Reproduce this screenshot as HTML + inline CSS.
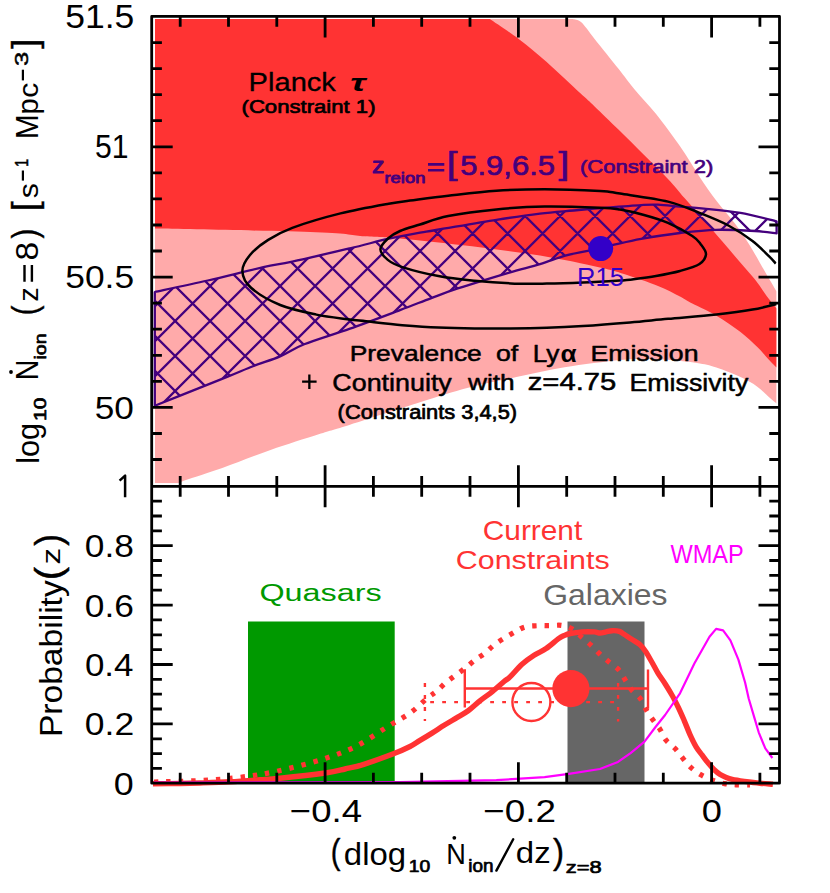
<!DOCTYPE html>
<html><head><meta charset="utf-8"><title>Reionization constraints</title>
<style>
html,body{margin:0;padding:0;background:#fff;}
body{width:830px;height:893px;overflow:hidden;font-family:"Liberation Sans",sans-serif;font-size:0;line-height:0;}
svg{display:block;position:absolute;left:0;top:0;}
svg text{font-family:"Liberation Sans",sans-serif;}
</style></head>
<body>
<svg width="830" height="893" viewBox="0 0 830 893">
<rect width="830" height="893" fill="#fff"/>
<clipPath id="ct"><rect x="154.9" y="19.0" width="621.7" height="464.3"/></clipPath>
<path d="M154.9,19.0L572.9,19.0C574.3,19.6 577.7,19.0 581.3,22.3C584.9,25.6 588.4,31.1 594.6,38.9C600.8,46.7 612.1,60.6 618.7,69.0C625.3,77.4 628.2,81.7 634.4,89.2C640.6,96.7 648.5,104.5 656.1,114.1C663.7,123.7 673.0,136.2 680.2,146.6C687.4,157.0 693.5,167.7 699.5,176.7C705.5,185.7 710.4,192.8 716.4,200.8C722.4,208.8 730.1,217.0 735.7,224.5C741.3,232.0 745.2,238.1 750.0,245.8C754.8,253.6 760.2,263.4 764.6,271.0C769.0,278.6 774.6,288.2 776.6,291.6L776.6,403.6C775.4,402.6 772.6,400.4 769.4,397.6C766.2,394.8 762.1,390.1 757.3,386.7C752.5,383.3 747.3,380.3 740.5,377.1C733.7,373.9 723.6,369.9 716.4,367.5C709.1,365.1 705.0,364.3 697.0,363.0C689.0,361.7 677.0,360.4 668.2,359.7C659.4,359.0 652.1,358.9 644.1,359.0C636.1,359.1 633.2,358.7 620.0,360.1C606.8,361.5 581.9,364.5 564.6,367.3C547.3,370.1 532.5,373.6 516.4,377.0C500.3,380.4 484.3,383.6 468.2,387.8C452.1,392.0 439.7,396.2 420.0,402.3C400.3,408.4 366.9,419.4 350.0,424.7C333.1,430.0 331.9,430.1 318.7,434.3C305.4,438.5 286.6,444.4 270.5,450.0C254.4,455.6 236.4,463.0 222.3,468.0C208.2,473.0 193.2,477.4 186.0,480.0C178.8,482.6 180.2,482.8 179.0,483.3L154.9,483.3Z" fill="#ffaaaa" clip-path="url(#ct)"/>
<path d="M154.9,19.0L489.8,19.0C494.6,22.3 509.3,31.8 518.7,38.9C528.1,46.0 536.2,52.8 546.4,61.8C556.6,70.8 572.1,85.7 580.1,93.1C588.1,100.5 588.2,100.3 594.6,106.4C601.0,112.5 610.5,121.7 618.7,129.8C627.0,137.9 635.9,146.8 644.1,155.0C652.4,163.2 661.5,172.0 668.2,179.2C674.9,186.4 678.7,191.4 684.5,198.0C690.3,204.6 696.7,211.7 703.0,219.0C709.3,226.3 716.1,234.3 722.4,241.6C728.6,248.9 735.1,256.4 740.5,262.7C745.9,269.0 750.6,273.9 755.0,279.5C759.4,285.1 763.4,291.6 767.0,296.4C770.6,301.2 775.0,306.4 776.6,308.4L776.6,367.5C775.4,366.3 772.6,363.6 769.4,360.2C766.2,356.8 762.1,351.7 757.3,347.0C752.5,342.3 747.3,337.2 740.5,332.0C733.7,326.8 724.4,320.4 716.4,315.7C708.4,311.0 698.4,306.8 692.3,303.6C686.2,300.4 685.7,299.4 680.0,296.5C674.3,293.6 667.3,289.8 658.0,286.0C648.7,282.2 633.7,277.1 624.0,274.0C614.3,270.9 614.0,270.6 600.0,267.5C586.0,264.4 561.3,259.1 540.0,255.6C518.7,252.1 495.3,249.2 472.0,246.3C448.7,243.5 417.8,240.2 400.0,238.5C382.2,236.8 379.0,237.4 365.0,236.3C351.0,235.2 351.0,233.5 316.0,232.2C281.0,230.9 181.7,229.2 154.8,228.6Z" fill="#ff3333" clip-path="url(#ct)"/>
<clipPath id="cb"><path d="M154.8,292.0C163.6,290.1 189.7,284.6 207.8,280.5C225.9,276.4 249.2,270.3 263.3,267.2C277.4,264.1 277.9,264.8 292.3,261.6C306.8,258.5 333.9,252.1 350.0,248.3C366.1,244.5 377.0,241.3 388.7,238.7C400.4,236.1 412.1,234.0 420.0,232.6C427.9,231.2 423.4,232.1 436.1,230.0C448.8,227.9 479.1,222.5 496.4,219.8C513.7,217.1 527.1,215.2 540.0,213.6C552.9,212.0 562.5,211.5 573.7,210.5C585.0,209.5 596.2,208.5 607.5,207.6C618.8,206.7 632.8,205.6 641.2,205.1C649.6,204.6 651.5,204.4 658.0,204.7C664.5,205.0 672.3,206.0 680.0,206.7C687.7,207.3 693.9,207.6 704.0,208.6C714.1,209.6 728.4,210.8 740.5,212.9C752.6,215.0 770.6,219.9 776.6,221.3L776.6,233.4C773.0,233.0 765.0,231.6 755.0,231.0C745.0,230.4 728.9,229.5 716.4,229.8C703.9,230.1 692.5,231.5 680.0,233.0C667.5,234.5 652.2,236.9 641.2,238.8C630.2,240.8 622.9,242.7 614.2,244.7C605.5,246.7 597.0,248.8 588.9,250.6C580.8,252.4 573.4,253.3 565.3,255.6C557.1,257.9 549.5,261.2 540.0,264.1C530.5,267.0 522.1,268.8 508.4,272.8C494.7,276.9 470.6,284.2 457.8,288.4C445.0,292.6 440.9,294.5 431.3,298.1C421.7,301.7 413.6,305.0 400.0,310.1C386.4,315.2 366.0,323.0 350.0,328.7C334.0,334.4 315.8,339.7 304.2,344.3C292.6,348.9 288.5,352.8 280.1,356.4C271.7,360.0 262.4,362.6 253.6,366.0C244.8,369.4 239.5,371.9 227.1,376.9C214.7,381.9 190.9,391.3 178.9,396.1C166.9,400.9 158.8,404.2 154.8,405.8Z"/></clipPath>
<path d="M6.1,420.0L236.1,190.0M41.1,420.0L271.1,190.0M76.1,420.0L306.1,190.0M111.1,420.0L341.1,190.0M146.1,420.0L376.1,190.0M181.1,420.0L411.1,190.0M216.1,420.0L446.1,190.0M251.1,420.0L481.1,190.0M286.1,420.0L516.1,190.0M321.1,420.0L551.1,190.0M356.1,420.0L586.1,190.0M391.1,420.0L621.1,190.0M426.1,420.0L656.1,190.0M461.1,420.0L691.1,190.0M496.1,420.0L726.1,190.0M531.1,420.0L761.1,190.0M566.1,420.0L796.1,190.0M601.1,420.0L831.1,190.0M636.1,420.0L866.1,190.0M671.1,420.0L901.1,190.0M-25.9,190.0L204.1,420.0M9.1,190.0L239.1,420.0M44.1,190.0L274.1,420.0M79.1,190.0L309.1,420.0M114.1,190.0L344.1,420.0M149.1,190.0L379.1,420.0M184.1,190.0L414.1,420.0M219.1,190.0L449.1,420.0M254.1,190.0L484.1,420.0M289.1,190.0L519.1,420.0M324.1,190.0L554.1,420.0M359.1,190.0L589.1,420.0M394.1,190.0L624.1,420.0M429.1,190.0L659.1,420.0M464.1,190.0L694.1,420.0M499.1,190.0L729.1,420.0M534.1,190.0L764.1,420.0M569.1,190.0L799.1,420.0M604.1,190.0L834.1,420.0M639.1,190.0L869.1,420.0M674.1,190.0L904.1,420.0M709.1,190.0L939.1,420.0M744.1,190.0L974.1,420.0M779.1,190.0L1009.1,420.0" stroke="#44007d" stroke-width="2.3" fill="none" clip-path="url(#cb)"/>
<path d="M154.8,292.0C163.6,290.1 189.7,284.6 207.8,280.5C225.9,276.4 249.2,270.3 263.3,267.2C277.4,264.1 277.9,264.8 292.3,261.6C306.8,258.5 333.9,252.1 350.0,248.3C366.1,244.5 377.0,241.3 388.7,238.7C400.4,236.1 412.1,234.0 420.0,232.6C427.9,231.2 423.4,232.1 436.1,230.0C448.8,227.9 479.1,222.5 496.4,219.8C513.7,217.1 527.1,215.2 540.0,213.6C552.9,212.0 562.5,211.5 573.7,210.5C585.0,209.5 596.2,208.5 607.5,207.6C618.8,206.7 632.8,205.6 641.2,205.1C649.6,204.6 651.5,204.4 658.0,204.7C664.5,205.0 672.3,206.0 680.0,206.7C687.7,207.3 693.9,207.6 704.0,208.6C714.1,209.6 728.4,210.8 740.5,212.9C752.6,215.0 770.6,219.9 776.6,221.3L776.6,233.4C773.0,233.0 765.0,231.6 755.0,231.0C745.0,230.4 728.9,229.5 716.4,229.8C703.9,230.1 692.5,231.5 680.0,233.0C667.5,234.5 652.2,236.9 641.2,238.8C630.2,240.8 622.9,242.7 614.2,244.7C605.5,246.7 597.0,248.8 588.9,250.6C580.8,252.4 573.4,253.3 565.3,255.6C557.1,257.9 549.5,261.2 540.0,264.1C530.5,267.0 522.1,268.8 508.4,272.8C494.7,276.9 470.6,284.2 457.8,288.4C445.0,292.6 440.9,294.5 431.3,298.1C421.7,301.7 413.6,305.0 400.0,310.1C386.4,315.2 366.0,323.0 350.0,328.7C334.0,334.4 315.8,339.7 304.2,344.3C292.6,348.9 288.5,352.8 280.1,356.4C271.7,360.0 262.4,362.6 253.6,366.0C244.8,369.4 239.5,371.9 227.1,376.9C214.7,381.9 190.9,391.3 178.9,396.1C166.9,400.9 158.8,404.2 154.8,405.8Z" stroke="#44007d" stroke-width="2.3" fill="none" stroke-linejoin="round"/>
<path d="M775.8,263.5C774.7,262.4 773.3,260.4 769.4,256.6C765.5,252.9 759.3,246.2 752.5,241.0C745.7,235.8 737.2,230.2 728.4,225.5C719.6,220.8 709.6,216.9 699.5,212.9C689.4,208.9 681.2,204.8 668.0,201.6C654.8,198.4 631.3,195.4 620.0,193.6C608.7,191.8 612.6,191.7 600.0,191.0C587.4,190.3 561.9,189.2 544.6,189.2C527.3,189.2 512.5,189.7 496.4,190.8C480.3,191.9 462.6,194.1 448.2,195.7C433.8,197.3 419.9,199.3 410.0,200.6C400.1,201.9 400.3,201.6 388.7,203.7C377.1,205.8 356.6,209.4 340.5,213.4C324.4,217.4 304.4,223.4 292.3,227.8C280.2,232.2 275.2,235.4 268.2,239.9C261.1,244.4 254.3,249.8 250.0,255.0C245.7,260.2 242.2,265.7 242.4,271.2C242.6,276.7 245.0,282.4 251.3,288.0C257.6,293.6 269.4,300.6 280.2,305.0C291.0,309.4 305.1,312.2 316.4,314.6C327.6,317.0 339.4,318.1 347.7,319.2C356.0,320.3 357.0,320.3 366.1,321.3C375.2,322.3 390.2,324.1 402.3,325.2C414.4,326.2 426.3,327.1 438.4,327.6C450.4,328.2 462.6,328.4 474.6,328.5C486.7,328.6 498.7,328.6 510.7,328.5C522.7,328.4 534.8,328.2 546.8,327.8C558.8,327.4 569.1,326.9 583.0,326.0C596.9,325.1 615.8,323.6 630.0,322.4C644.2,321.2 653.8,320.1 668.2,318.8C682.6,317.5 702.4,316.0 716.4,314.5C730.4,313.0 742.5,311.4 752.5,309.6C762.5,307.9 772.6,304.9 776.6,304.0" stroke="#000" stroke-width="2.5" fill="none" clip-path="url(#ct)"/>
<path d="M706.0,254.2C706.2,250.9 702.8,247.0 700.5,244.0C698.2,241.0 697.7,239.5 692.3,236.0C686.9,232.5 676.0,226.4 668.0,222.9C660.0,219.4 652.0,217.2 644.0,215.0C636.0,212.8 627.3,210.8 620.0,209.6C612.7,208.4 612.6,208.2 600.0,207.7C587.4,207.2 561.9,206.2 544.6,206.5C527.3,206.8 512.5,207.8 496.4,209.4C480.3,211.0 460.9,213.6 448.2,216.1C435.5,218.6 428.0,222.0 420.0,224.5C412.0,227.0 405.3,228.7 400.0,231.0C394.7,233.3 391.3,235.4 388.0,238.5C384.7,241.6 380.4,245.7 380.4,249.3C380.4,252.9 384.1,256.9 387.8,259.9C391.5,262.9 393.9,264.4 402.3,267.1C410.7,269.8 426.3,273.8 438.4,276.1C450.4,278.4 462.6,279.6 474.6,280.8C486.7,282.0 498.7,282.9 510.7,283.4C522.7,283.9 534.8,283.7 546.8,283.6C558.8,283.5 570.8,283.1 583.0,282.6C595.2,282.1 611.8,281.1 620.0,280.6C628.2,280.1 626.0,280.3 632.0,279.5C638.0,278.7 648.0,277.4 656.0,276.0C664.0,274.6 672.8,273.0 680.0,271.0C687.2,269.0 695.2,266.8 699.5,264.0C703.8,261.2 705.8,257.5 706.0,254.2Z" stroke="#000" stroke-width="2.5" fill="none"/>
<circle cx="600.7" cy="248.6" r="12.5" fill="#3300c8"/>
<rect x="248" y="621.5" width="146.7" height="161.7" fill="#009900"/>
<rect x="567.5" y="621.5" width="77" height="161.7" fill="#666666"/>
<path d="M154.0,782.0C161.7,781.8 186.1,781.3 200.0,780.6C213.9,779.9 225.0,779.1 237.7,777.6C250.4,776.1 262.1,774.5 276.3,771.4C290.5,768.3 309.4,763.4 322.7,759.2C336.0,755.0 345.4,751.7 356.1,746.3C366.8,740.9 378.0,732.6 387.0,727.0C396.0,721.4 403.5,717.7 410.2,712.9C416.9,708.1 422.8,701.9 427.2,698.2C431.6,694.6 433.8,693.6 436.9,691.0C440.0,688.4 442.8,685.1 445.9,682.5C449.0,679.9 452.3,677.7 455.5,675.3C458.7,672.9 462.0,670.6 465.2,668.1C468.4,665.6 471.5,662.7 474.8,660.2C478.1,657.7 481.5,655.8 485.1,653.0C488.7,650.2 491.5,646.7 496.4,643.2C501.2,639.8 509.4,635.0 514.2,632.3C519.0,629.6 521.3,628.0 525.1,626.9C528.9,625.8 533.1,625.9 537.1,625.7C541.1,625.5 545.1,625.8 549.2,625.7C553.3,625.7 557.9,624.8 561.8,625.4C565.7,626.0 569.3,627.2 572.7,629.3C576.1,631.3 579.2,635.0 582.3,637.7C585.4,640.4 588.4,642.8 591.3,645.5C594.2,648.2 596.8,651.2 599.8,654.0C602.8,656.8 605.9,659.4 609.0,662.0C612.1,664.6 616.0,666.8 618.7,669.8C621.4,672.8 623.1,676.7 625.3,680.1C627.5,683.5 629.4,687.2 631.9,690.3C634.4,693.4 638.0,695.4 640.4,698.7C642.8,702.0 644.3,706.7 646.4,710.2C648.5,713.8 650.7,716.8 653.0,720.0C655.3,723.2 657.8,725.9 660.0,729.3C662.2,732.7 663.5,737.0 666.0,740.2C668.5,743.4 672.3,745.6 675.1,748.6C677.9,751.6 680.3,755.2 682.9,758.3C685.5,761.4 687.8,764.6 690.7,767.3C693.6,770.0 696.9,772.4 700.4,774.5C703.9,776.6 707.8,778.4 711.8,779.9C715.8,781.4 720.5,782.8 724.5,783.6C728.5,784.4 731.6,784.6 735.9,784.8C740.1,785.0 747.6,785.0 750.0,785.0" stroke="#ff3333" stroke-width="5.2" stroke-dasharray="4.4 8" fill="none"/>
<path d="M153.0,783.8C157.5,783.8 172.2,783.6 180.0,783.5C187.8,783.4 191.7,783.3 200.0,783.0C208.3,782.7 220.0,782.3 230.0,781.8C240.0,781.3 251.7,780.4 260.0,779.8C268.3,779.2 269.1,779.3 280.0,778.2C290.9,777.1 314.4,774.5 325.2,773.0C336.0,771.5 338.6,770.5 345.0,769.0C351.4,767.5 355.5,766.9 363.8,764.3C372.1,761.7 387.0,756.3 394.7,753.3C402.4,750.3 405.8,748.6 410.0,746.5C414.2,744.4 416.3,742.6 420.0,740.4C423.7,738.2 428.0,735.6 432.0,733.1C436.0,730.6 440.1,727.8 444.1,725.3C448.1,722.8 452.1,720.5 456.1,718.1C460.1,715.7 464.2,713.7 468.2,710.8C472.2,707.9 476.2,703.8 480.2,700.6C484.2,697.4 488.3,694.8 492.3,691.6C496.3,688.4 501.4,683.8 504.3,681.3C507.2,678.8 507.1,679.8 510.0,676.9C513.0,674.0 518.0,667.8 522.0,664.2C526.0,660.6 530.1,657.8 534.1,655.2C538.1,652.6 542.1,651.3 546.1,648.6C550.1,645.9 555.2,641.1 558.2,638.9C561.2,636.7 562.2,636.4 564.2,635.5C566.2,634.6 567.2,634.1 570.2,633.5C573.2,632.9 578.3,632.2 582.3,631.9C586.3,631.6 591.3,631.7 594.3,631.9C597.2,632.1 598.0,633.0 600.0,633.0C602.0,633.0 604.0,632.3 606.0,631.9C608.0,631.5 609.8,630.8 612.0,630.7C614.2,630.6 617.3,630.7 619.3,631.3C621.3,631.9 622.1,633.0 624.1,634.3C626.1,635.6 628.7,637.4 631.3,639.1C633.9,640.8 637.4,642.4 639.8,644.5C642.2,646.6 643.8,648.8 645.8,651.7C647.8,654.6 649.8,658.5 651.8,662.0C653.8,665.5 655.6,669.2 657.8,672.8C660.0,676.4 662.7,679.9 665.1,683.7C667.5,687.5 670.0,691.6 672.2,695.5C674.4,699.4 676.1,702.9 678.1,707.0C680.1,711.1 682.1,715.7 684.1,720.3C686.1,724.9 688.1,730.4 690.1,734.8C692.1,739.2 694.1,743.4 696.1,746.8C698.1,750.2 700.2,752.5 702.2,755.2C704.2,757.9 706.2,760.7 708.2,763.1C710.2,765.5 712.2,767.8 714.2,769.7C716.2,771.6 718.2,773.2 720.2,774.5C722.2,775.8 724.3,776.7 726.3,777.5C728.3,778.3 729.3,778.7 732.3,779.3C735.3,779.9 739.7,780.6 744.3,781.3C748.9,781.9 755.2,782.7 760.0,783.2C764.8,783.7 770.8,784.1 772.9,784.3" stroke="#ff3333" stroke-width="5.4" fill="none" stroke-linejoin="round"/>
<path d="M154.0,782.6L400.0,782.0L448.0,781.2L496.4,780.2L544.6,777.1L568.7,773.8L600.0,769.0L618.0,761.9L630.6,753.1L644.5,741.7L655.9,726.5L665.1,715.0L680.0,693.3L694.5,663.2L709.5,636.7L716.1,628.9L723.1,630.4L730.4,640.3L738.4,659.6L745.1,682.5L748.7,698.5L754.2,717.1L758.7,732.3L765.3,748.4L772.4,758.0" stroke="#ff00ff" stroke-width="2.2" fill="none" stroke-linejoin="round"/>
<g stroke="#ff3333" stroke-width="2.4" fill="none">
<path d="M464.8,688.5H648M464.8,669.3V707.4M648,669.6V708.8"/>
<path d="M425,702.1H618" stroke-dasharray="3.8 8.2" stroke-dashoffset="-5.2"/>
<path d="M424.9,683.1V721M618.1,683V721.4" stroke-dasharray="3.8 8.2"/>
<circle cx="531.4" cy="702" r="19"/>
</g>
<circle cx="570.9" cy="688.6" r="18.6" fill="#ff3333"/>
<path d="M151.7,16.4H779.5V783.2H151.7ZM151.7,486.3H779.5M180.2,16.4v10.4M180.2,475.9v20.8M180.2,783.2v-10.4M228.5,16.4v10.4M228.5,475.9v20.8M228.5,783.2v-10.4M276.8,16.4v10.4M276.8,475.9v20.8M276.8,783.2v-10.4M325.1,16.4v21.0M325.1,465.3v42.0M325.1,783.2v-21.0M373.4,16.4v10.4M373.4,475.9v20.8M373.4,783.2v-10.4M421.7,16.4v10.4M421.7,475.9v20.8M421.7,783.2v-10.4M470.0,16.4v10.4M470.0,475.9v20.8M470.0,783.2v-10.4M518.4,16.4v21.0M518.4,465.3v42.0M518.4,783.2v-21.0M566.7,16.4v10.4M566.7,475.9v20.8M566.7,783.2v-10.4M615.0,16.4v10.4M615.0,475.9v20.8M615.0,783.2v-10.4M663.3,16.4v10.4M663.3,475.9v20.8M663.3,783.2v-10.4M711.6,16.4v21.0M711.6,465.3v42.0M711.6,783.2v-21.0M759.9,16.4v10.4M759.9,475.9v20.8M759.9,783.2v-10.4M151.7,459.5h10.2M779.5,459.5h-10.2M151.7,433.5h10.2M779.5,433.5h-10.2M151.7,407.4h21.0M779.5,407.4h-21.0M151.7,381.3h10.2M779.5,381.3h-10.2M151.7,355.3h10.2M779.5,355.3h-10.2M151.7,329.2h10.2M779.5,329.2h-10.2M151.7,303.2h10.2M779.5,303.2h-10.2M151.7,277.1h21.0M779.5,277.1h-21.0M151.7,251.0h10.2M779.5,251.0h-10.2M151.7,225.0h10.2M779.5,225.0h-10.2M151.7,198.9h10.2M779.5,198.9h-10.2M151.7,172.9h10.2M779.5,172.9h-10.2M151.7,146.8h21.0M779.5,146.8h-21.0M151.7,120.7h10.2M779.5,120.7h-10.2M151.7,94.7h10.2M779.5,94.7h-10.2M151.7,68.6h10.2M779.5,68.6h-10.2M151.7,42.6h10.2M779.5,42.6h-10.2M151.7,768.4h10.2M779.5,768.4h-10.2M151.7,753.6h10.2M779.5,753.6h-10.2M151.7,738.8h10.2M779.5,738.8h-10.2M151.7,723.9h21.0M779.5,723.9h-21.0M151.7,709.0h10.2M779.5,709.0h-10.2M151.7,694.2h10.2M779.5,694.2h-10.2M151.7,679.3h10.2M779.5,679.3h-10.2M151.7,664.5h21.0M779.5,664.5h-21.0M151.7,649.6h10.2M779.5,649.6h-10.2M151.7,634.8h10.2M779.5,634.8h-10.2M151.7,619.9h10.2M779.5,619.9h-10.2M151.7,605.1h21.0M779.5,605.1h-21.0M151.7,590.2h10.2M779.5,590.2h-10.2M151.7,575.4h10.2M779.5,575.4h-10.2M151.7,560.5h10.2M779.5,560.5h-10.2M151.7,545.7h21.0M779.5,545.7h-21.0M151.7,530.8h10.2M779.5,530.8h-10.2M151.7,516.0h10.2M779.5,516.0h-10.2M151.7,501.1h10.2M779.5,501.1h-10.2" stroke="#000" stroke-width="2.8" fill="none" stroke-linejoin="round"/>
<text x="65.18" y="28.02" font-size="32.71" textLength="69.09" lengthAdjust="spacingAndGlyphs">51.5</text>
<text x="95.09" y="158.12" font-size="32.71" textLength="33.53" lengthAdjust="spacingAndGlyphs">51</text>
<text x="65.29" y="288.43" font-size="32.25" textLength="68.77" lengthAdjust="spacingAndGlyphs">50.5</text>
<text x="94.79" y="418.83" font-size="32.25" textLength="39.12" lengthAdjust="spacingAndGlyphs">50</text>
<path d="M119.6,480.6L125.1,475.6V497.3" stroke="#000" stroke-width="2.5" fill="none" stroke-linejoin="round"/>
<text x="84.89" y="557.03" font-size="32.25" textLength="49.11" lengthAdjust="spacingAndGlyphs">0.8</text>
<text x="84.89" y="616.53" font-size="32.25" textLength="49.11" lengthAdjust="spacingAndGlyphs">0.6</text>
<text x="84.90" y="675.93" font-size="32.25" textLength="48.55" lengthAdjust="spacingAndGlyphs">0.4</text>
<text x="84.88" y="735.33" font-size="32.25" textLength="49.30" lengthAdjust="spacingAndGlyphs">0.2</text>
<text x="113.77" y="794.83" font-size="32.25" textLength="19.93" lengthAdjust="spacingAndGlyphs">0</text>
<text x="289.87" y="822.48" font-size="32.11" textLength="72.09" lengthAdjust="spacingAndGlyphs">−0.4</text>
<text x="483.16" y="822.48" font-size="32.11" textLength="72.75" lengthAdjust="spacingAndGlyphs">−0.2</text>
<text x="701.75" y="822.48" font-size="32.11" textLength="20.16" lengthAdjust="spacingAndGlyphs">0</text>
<text x="330.76" y="863.72" font-size="35.61" textLength="9.68" lengthAdjust="spacingAndGlyphs" stroke="#000" stroke-width="0.40" stroke-linejoin="round">(</text>
<text x="343.88" y="864.86" font-size="31.12" textLength="62.28" lengthAdjust="spacingAndGlyphs">dlog</text>
<text x="408.70" y="871.68" font-size="16.90" textLength="21.47" lengthAdjust="spacingAndGlyphs" stroke="#000" stroke-width="0.70" stroke-linejoin="round">10</text>
<text x="446.23" y="863.50" font-size="30.29" textLength="19.60" lengthAdjust="spacingAndGlyphs">N</text>
<circle cx="454.3" cy="837.8" r="1.9"/>
<text x="468.22" y="871.67" font-size="17.55" textLength="25.25" lengthAdjust="spacingAndGlyphs" stroke="#000" stroke-width="0.70" stroke-linejoin="round">ion</text>
<path d="M496.4,870.6L513.2,839.3" stroke="#000" stroke-width="2.4" stroke-linecap="round"/>
<text x="515.88" y="863.07" font-size="28.65" textLength="34.80" lengthAdjust="spacingAndGlyphs">dz</text>
<text x="552.93" y="863.72" font-size="35.61" textLength="11.06" lengthAdjust="spacingAndGlyphs" stroke="#000" stroke-width="0.40" stroke-linejoin="round">)</text>
<text x="565.78" y="872.88" font-size="17.04" textLength="35.86" lengthAdjust="spacingAndGlyphs" stroke="#000" stroke-width="0.70" stroke-linejoin="round">z=8</text>
<g transform="translate(37.5,461.8) rotate(-90)">
<text x="-1.99" y="1.37" font-size="31.55" textLength="40.86" lengthAdjust="spacingAndGlyphs">log</text>
<text x="40.77" y="8.18" font-size="17.18" textLength="23.47" lengthAdjust="spacingAndGlyphs" stroke="#000" stroke-width="0.70" stroke-linejoin="round">10</text>
<text x="81.61" y="0.00" font-size="30.43" textLength="20.63" lengthAdjust="spacingAndGlyphs">N</text>
<circle cx="89.8" cy="-26.5" r="1.9"/>
<text x="102.28" y="8.18" font-size="17.41" textLength="26.14" lengthAdjust="spacingAndGlyphs" stroke="#000" stroke-width="0.70" stroke-linejoin="round">ion</text>
<text x="146.46" y="-0.18" font-size="35.61" textLength="9.68" lengthAdjust="spacingAndGlyphs" stroke="#000" stroke-width="0.40" stroke-linejoin="round">(</text>
<text x="160.14" y="0.00" font-size="28.30" textLength="14.51" lengthAdjust="spacingAndGlyphs">z</text>
<path d="M180.1,-13.0H196.9M180.1,-5.6H196.9" stroke="#000" stroke-width="2.4"/>
<text x="201.30" y="0.09" font-size="31.27" textLength="18.58" lengthAdjust="spacingAndGlyphs">8</text>
<text x="223.25" y="-0.18" font-size="35.61" textLength="9.80" lengthAdjust="spacingAndGlyphs" stroke="#000" stroke-width="0.40" stroke-linejoin="round">)</text>
<text x="250.64" y="-0.18" font-size="35.61" textLength="10.14" lengthAdjust="spacingAndGlyphs" stroke="#000" stroke-width="0.40" stroke-linejoin="round">[</text>
<text x="263.60" y="0.02" font-size="28.44" textLength="15.06" lengthAdjust="spacingAndGlyphs">s</text>
<path d="M281.2,-14.6H291.3" stroke="#000" stroke-width="2.2"/>
<text x="294.93" y="-9.85" font-size="19.28" textLength="8.31" lengthAdjust="spacingAndGlyphs" stroke="#000" stroke-width="0.50" stroke-linejoin="round">1</text>
<text x="322.60" y="0.00" font-size="30.43" textLength="24.99" lengthAdjust="spacingAndGlyphs">M</text>
<text x="347.31" y="0.78" font-size="29.60" textLength="16.19" lengthAdjust="spacingAndGlyphs">p</text>
<text x="364.10" y="0.02" font-size="28.18" textLength="15.06" lengthAdjust="spacingAndGlyphs">c</text>
<path d="M381.4,-14.6H392.1" stroke="#000" stroke-width="2.2"/>
<text x="395.83" y="-9.84" font-size="19.01" textLength="14.20" lengthAdjust="spacingAndGlyphs" stroke="#000" stroke-width="0.50" stroke-linejoin="round">3</text>
<text x="413.12" y="-0.18" font-size="35.61" textLength="10.14" lengthAdjust="spacingAndGlyphs" stroke="#000" stroke-width="0.40" stroke-linejoin="round">]</text>
</g>
<g transform="translate(60,734.4) rotate(-90)">
<text x="-2.69" y="1.96" font-size="31.12" textLength="156.82" lengthAdjust="spacingAndGlyphs">Probability</text>
<text x="154.25" y="1.44" font-size="36.26" textLength="13.32" lengthAdjust="spacingAndGlyphs" stroke="#000" stroke-width="0.50" stroke-linejoin="round">(</text>
<text x="169.87" y="0.00" font-size="25.66" textLength="16.59" lengthAdjust="spacingAndGlyphs">z</text>
<text x="188.57" y="1.44" font-size="36.26" textLength="11.69" lengthAdjust="spacingAndGlyphs" stroke="#000" stroke-width="0.50" stroke-linejoin="round">)</text>
</g>
<text x="248.62" y="90.89" font-size="25.85" textLength="87.27" lengthAdjust="spacingAndGlyphs" stroke="#000" stroke-width="0.30" stroke-linejoin="round">Planck</text>
<text x="350.27" y="91.16" font-size="23.89" textLength="15.37" lengthAdjust="spacingAndGlyphs" font-weight="bold" font-style="italic">τ</text>
<text x="241.52" y="113.03" font-size="19.14" textLength="134.01" lengthAdjust="spacingAndGlyphs" stroke="#000" stroke-width="0.70" stroke-linejoin="round">(Constraint 1)</text>
<text x="371.95" y="173.35" font-size="22.08" textLength="12.44" lengthAdjust="spacingAndGlyphs" fill="#44007d" stroke="#44007d" stroke-width="0.90" stroke-linejoin="round">z</text>
<text x="384.51" y="182.96" font-size="14.15" textLength="40.86" lengthAdjust="spacingAndGlyphs" fill="#44007d" stroke="#44007d" stroke-width="0.80" stroke-linejoin="round">reion</text>
<path d="M428,164.4H444.3M428,170.3H444.3" stroke="#44007d" stroke-width="2.6"/>
<text x="446.86" y="174.33" font-size="31.98" textLength="10.70" lengthAdjust="spacingAndGlyphs" fill="#44007d" stroke="#44007d" stroke-width="0.70" stroke-linejoin="round">[</text>
<text x="460.31" y="174.55" font-size="28.43" textLength="94.67" lengthAdjust="spacingAndGlyphs" fill="#44007d" stroke="#44007d" stroke-width="0.70" stroke-linejoin="round">5.9,6.5</text>
<text x="558.46" y="174.33" font-size="31.98" textLength="10.70" lengthAdjust="spacingAndGlyphs" fill="#44007d" stroke="#44007d" stroke-width="0.70" stroke-linejoin="round">]</text>
<text x="580.03" y="172.91" font-size="19.25" textLength="133.30" lengthAdjust="spacingAndGlyphs" fill="#44007d" stroke="#44007d" stroke-width="0.70" stroke-linejoin="round">(Constraint 2)</text>
<text x="577.05" y="285.95" font-size="25.14" textLength="46.96" lengthAdjust="spacingAndGlyphs" fill="#3300c8">R15</text>
<text x="349.74" y="361.33" font-size="22.31" textLength="132.04" lengthAdjust="spacingAndGlyphs" stroke="#000" stroke-width="0.50" stroke-linejoin="round">Prevalence</text>
<text x="495.98" y="361.32" font-size="22.86" textLength="22.24" lengthAdjust="spacingAndGlyphs" stroke="#000" stroke-width="0.50" stroke-linejoin="round">of</text>
<text x="532.65" y="361.91" font-size="24.00" textLength="26.81" lengthAdjust="spacingAndGlyphs" stroke="#000" stroke-width="0.50" stroke-linejoin="round">Ly</text>
<text x="560.55" y="361.67" font-size="23.09" textLength="16.10" lengthAdjust="spacingAndGlyphs" font-weight="bold">α</text>
<text x="590.42" y="361.33" font-size="22.31" textLength="108.11" lengthAdjust="spacingAndGlyphs" stroke="#000" stroke-width="0.50" stroke-linejoin="round">Emission</text>
<path d="M302.1,381.6h14.5M309.35,374.4v14.5" stroke="#000" stroke-width="2.3"/>
<text x="332.31" y="391.14" font-size="23.85" textLength="119.49" lengthAdjust="spacingAndGlyphs" stroke="#000" stroke-width="0.50" stroke-linejoin="round">Continuity</text>
<text x="468.05" y="390.22" font-size="22.59" textLength="46.66" lengthAdjust="spacingAndGlyphs" stroke="#000" stroke-width="0.50" stroke-linejoin="round">with</text>
<text x="527.78" y="390.22" font-size="23.29" textLength="88.55" lengthAdjust="spacingAndGlyphs" stroke="#000" stroke-width="0.50" stroke-linejoin="round">z=4.75</text>
<text x="629.41" y="391.14" font-size="23.85" textLength="118.96" lengthAdjust="spacingAndGlyphs" stroke="#000" stroke-width="0.50" stroke-linejoin="round">Emissivity</text>
<text x="337.64" y="418.74" font-size="19.57" textLength="179.43" lengthAdjust="spacingAndGlyphs" stroke="#000" stroke-width="0.70" stroke-linejoin="round">(Constraints 3,4,5)</text>
<text x="259.44" y="600.50" font-size="23.71" textLength="122.27" lengthAdjust="spacingAndGlyphs" fill="#009900">Quasars</text>
<text x="543.30" y="605.31" font-size="28.57" textLength="124.13" lengthAdjust="spacingAndGlyphs" fill="#666666">Galaxies</text>
<text x="482.81" y="539.73" font-size="26.76" textLength="99.37" lengthAdjust="spacingAndGlyphs" fill="#ff3333">Current</text>
<text x="455.78" y="569.44" font-size="26.39" textLength="153.87" lengthAdjust="spacingAndGlyphs" fill="#ff3333">Constraints</text>
<text x="670.38" y="562.77" font-size="26.19" textLength="73.42" lengthAdjust="spacingAndGlyphs" fill="#ff00ff">WMAP</text>
</svg>
</body></html>
